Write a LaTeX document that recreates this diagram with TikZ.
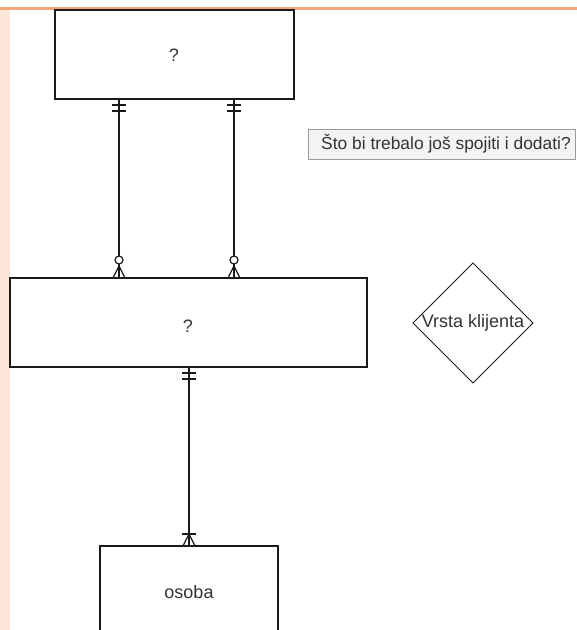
\documentclass[tikz,border=0pt]{standalone}
\usepackage{fontspec}
\setmainfont{Liberation Sans}
\definecolor{peach}{HTML}{FCE4D6}
\definecolor{rule}{HTML}{F4A77C}
\definecolor{ink}{HTML}{333333}
\definecolor{edge}{HTML}{1A1A1A}
\definecolor{notefill}{HTML}{F3F3F3}
\definecolor{noteedge}{HTML}{9A9A9A}
\begin{document}
\begin{tikzpicture}[x=1pt,y=-1pt,
  entity/.style={draw=edge,line width=1.2pt,fill=white,inner sep=0pt,outer sep=0pt,
    text=ink,font=\fontsize{18}{21}\selectfont},
  lbl/.style={text=ink,font=\fontsize{18}{21}\selectfont,inner sep=0pt},
  conn/.style={draw=edge,line width=1.2pt},
  % two bars just below the point: mandatory one
  pics/onebars/.style={code={
    \draw[conn] (-7,6) -- (7,6);
    \draw[conn] (-7,12) -- (7,12);}},
  % circle and crow's foot ending at the point: zero or many
  pics/zeromany/.style={code={
    \draw[conn,fill=white] (0,-18) circle (4);
    \draw[conn] (-6,0) -- (0,-12) -- (6,0) (0,-12) -- (0,0);}},
  % bar and crow's foot ending at the point: one or many
  pics/onemany/.style={code={
    \draw[conn] (-7,-12) -- (7,-12);
    \draw[conn] (-6,0) -- (0,-12) -- (6,0) (0,-12) -- (0,0);}}
]
\useasboundingbox (0,0) rectangle (577,630);
\clip (0,0) rectangle (577,630);

% page margin strip and top rule
\fill[peach] (0,9) rectangle (10,630);
\fill[rule] (0,6.5) rectangle (577,9.5);

% entities
\node[entity,minimum width=239pt,minimum height=89pt] (top) at (174.5,54.5) {};
\node[lbl] at (174,55) {?};
\node[entity,minimum width=357pt,minimum height=89pt] (mid) at (188.5,322.5) {};
\node[lbl] at (188,326) {?};
\node[entity,minimum width=178pt,minimum height=89pt] (osoba) at (189,590.5) {};
\node[lbl] at (189,592) {osoba};

% connector columns
\coordinate (c1) at (119,0);
\coordinate (c2) at (234,0);
\coordinate (c3) at (189,0);

\draw[conn] (top.south -| c1) -- (mid.north -| c1);
\draw[conn] (top.south -| c2) -- (mid.north -| c2);
\draw[conn] (mid.south -| c3) -- (osoba.north -| c3);

\pic at (top.south -| c1) {onebars};
\pic at (top.south -| c2) {onebars};
\pic at (mid.north -| c1) {zeromany};
\pic at (mid.north -| c2) {zeromany};
\pic at (mid.south -| c3) {onebars};
\pic at (osoba.north -| c3) {onemany};

% note box
\node[draw=noteedge,fill=notefill,line width=1pt,minimum width=267pt,minimum height=30pt,
  inner sep=0pt] (note) at (441.5,144) {};
\node[lbl,anchor=west,font=\fontsize{17.4}{20}\selectfont] at (321,144)
  {Što bi trebalo još spojiti i dodati?};

% relationship diamond
\coordinate (dia) at (473,323);
\draw[edge,line width=1pt] ([yshift=-60pt]dia) -- ([xshift=60pt]dia) -- ([yshift=60pt]dia)
  -- ([xshift=-60pt]dia) -- cycle;
\node[lbl] at (dia) {Vrsta klijenta};
\end{tikzpicture}
\end{document}
